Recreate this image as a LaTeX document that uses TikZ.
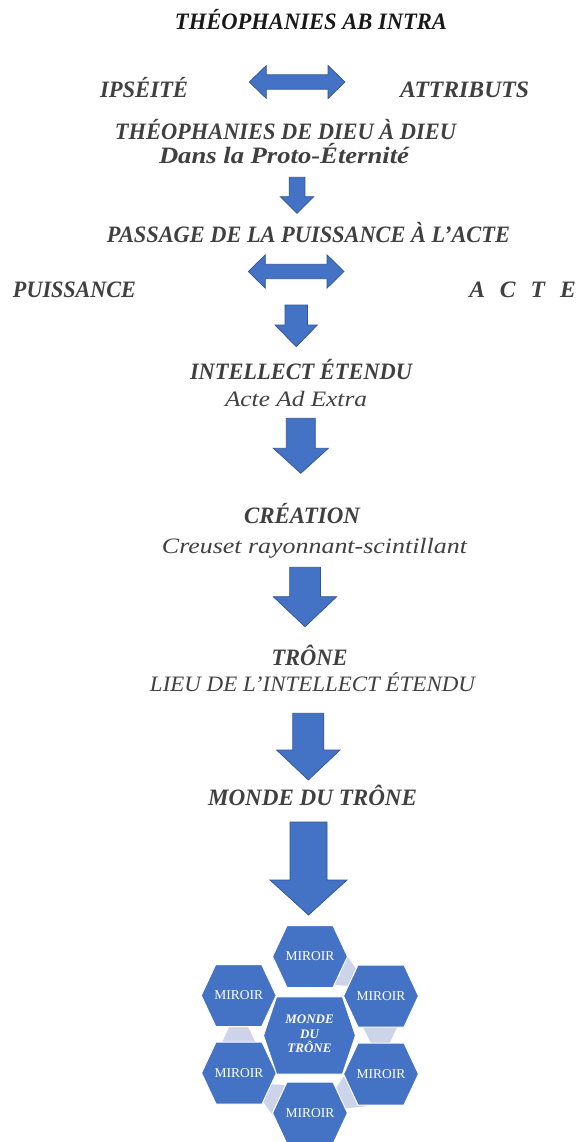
\documentclass[tikz,border=0pt]{standalone}
\usepackage{fontspec}
\setmainfont{Liberation Serif}
\usepackage{graphicx}
\definecolor{hexblue}{HTML}{4472C4}
\definecolor{arrowedge}{HTML}{2F5597}
\definecolor{connfill}{HTML}{CDD4EA}
\definecolor{txtgray}{HTML}{404040}
\newcommand\fitto[2]{\resizebox{#1pt}{\height}{#2}}
\newcommand\dnarrow[6]{% cx, top, shaft half, head half, head start, tip
  \draw[blk] ({#1-#3},#2) -- ({#1+#3},#2) -- ({#1+#3},#5) -- ({#1+#4},#5) -- (#1,#6)
    -- ({#1-#4},#5) -- ({#1-#3},#5) -- cycle;}
\newcommand\dbarrow[6]{% left, right, cy, shaft half, head half, head length
  \draw[blk] (#1,#3) -- ({#1+#6},{#3-#5}) -- ({#1+#6},{#3-#4}) -- ({#2-#6},{#3-#4})
    -- ({#2-#6},{#3-#5}) -- (#2,#3) -- ({#2-#6},{#3+#5}) -- ({#2-#6},{#3+#4})
    -- ({#1+#6},{#3+#4}) -- ({#1+#6},{#3+#5}) -- cycle;}
\newcommand\hexa[5]{% cx, cy, half width, half height, inset
  \draw[hexs] ({#1-#3},#2) -- ({#1-#3+#5},{#2-#4}) -- ({#1+#3-#5},{#2-#4}) -- ({#1+#3},#2)
    -- ({#1+#3-#5},{#2+#4}) -- ({#1-#3+#5},{#2+#4}) -- cycle;}
\tikzset{
  lbl/.style={inner sep=0pt, anchor=base, text=txtgray, font=\fontsize{23.5}{27}\selectfont\bfseries\itshape},
  sublbl/.style={inner sep=0pt, anchor=base, text=txtgray, font=\fontsize{22}{26}\selectfont\itshape},
  blk/.style={fill=hexblue, draw=arrowedge, line width=0.7pt, line join=miter},
  hexs/.style={fill=hexblue, draw=white, line width=1pt},
  mirtxt/.style={inner sep=0pt, text=white, font=\fontsize{13.5}{15}\selectfont},
  centtxt/.style={inner sep=0pt, text=white, align=center, font=\fontsize{13}{14.3}\selectfont\bfseries\itshape},
}
\begin{document}
\begin{tikzpicture}[x=1pt,y=-1pt]
\fill[white] (0,0) rectangle (577,1142);
\useasboundingbox (0,0) rectangle (577,1142);
\clip (0,0) rectangle (577,1142);

% texts
\node[lbl, text=black!90] (title) at (311,30) {\fitto{272}{THÉOPHANIES AB INTRA}};
\node[lbl] (ips) at (144,98) {\fitto{88}{IPSÉITÉ}};
\node[lbl] (attr) at (464.5,98) {\fitto{129}{ATTRIBUTS}};
\node[lbl] (theo) at (285.5,140) {\fitto{341}{THÉOPHANIES DE DIEU À DIEU}};
\node[lbl] (proto) at (284,164) {\fitto{250}{Dans la Proto-Éternité}};
\node[lbl] (passage) at (308.5,242) {\fitto{403}{PASSAGE DE LA PUISSANCE À L’ACTE}};
\node[lbl] (puis) at (74.5,297) {\fitto{123}{PUISSANCE}};
\node[lbl] (acte) at (522.5,297) {A\hspace{15pt}C\hspace{15pt}T\hspace{15pt}E};
\node[lbl] (intel) at (301,379) {\fitto{222}{INTELLECT ÉTENDU}};
\node[sublbl] (adextra) at (296,406) {\fitto{142}{Acte Ad Extra}};
\node[lbl] (creation) at (302,523.5) {\fitto{116}{CRÉATION}};
\node[sublbl] (creuset) at (314.5,553.5) {\fitto{305}{Creuset rayonnant-scintillant}};
\node[lbl] (trone) at (309.5,665) {\fitto{76}{TRÔNE}};
\node[sublbl] (lieu) at (312.5,691.5) {\fitto{325}{LIEU DE L’INTELLECT ÉTENDU}};
\node[lbl] (monde) at (312.5,805) {\fitto{209}{MONDE DU TRÔNE}};

% block arrows
\dbarrow{249.3}{345}{82}{7.2}{16.5}{17}
\dbarrow{248.3}{344}{271.5}{7.2}{16.7}{17}
\dnarrow{297}{177.3}{7.9}{16.7}{196.7}{213.3}
\dnarrow{296.2}{305}{11.2}{21.2}{325}{346.7}
\dnarrow{300.8}{418.3}{14.5}{27.5}{448.3}{473.3}
\dnarrow{305}{567.3}{15.4}{31.7}{596.7}{626.7}
\dnarrow{308.3}{713.3}{15.5}{31.7}{750}{780}
\dnarrow{308.5}{822}{18.5}{38.5}{880}{915}

% hexagon cluster connectors
\foreach \ang in {60,0,-60,-120,180}{
  \fill[connfill, shift={(309.5,1035)}, rotate=\ang] (51,-13) -- (90,-13) -- (78,13) -- (64,13) -- cycle;
}
% hexagons
\hexa{310}{956.5}{37.5}{31}{14.5}
\hexa{238.7}{995.5}{37.5}{31}{14.5}
\hexa{381}{996}{37.5}{31}{14.5}
\hexa{239}{1073}{37.5}{31}{14.5}
\hexa{381}{1074}{37.5}{31}{14.5}
\hexa{310}{1113}{37.5}{31}{14.5}
\hexa{309.5}{1035.5}{46}{38.6}{13}
\node[mirtxt] (m1) at (310,956.5) {MIROIR};
\node[mirtxt] (m2) at (238.7,995.5) {MIROIR};
\node[mirtxt] (m3) at (381,996) {MIROIR};
\node[mirtxt] (m4) at (239,1073) {MIROIR};
\node[mirtxt] (m5) at (381,1074) {MIROIR};
\node[mirtxt] (m6) at (310,1113) {MIROIR};
\node[centtxt] (mc) at (309.5,1034) {MONDE\\DU\\TRÔNE};
\end{tikzpicture}
\end{document}
